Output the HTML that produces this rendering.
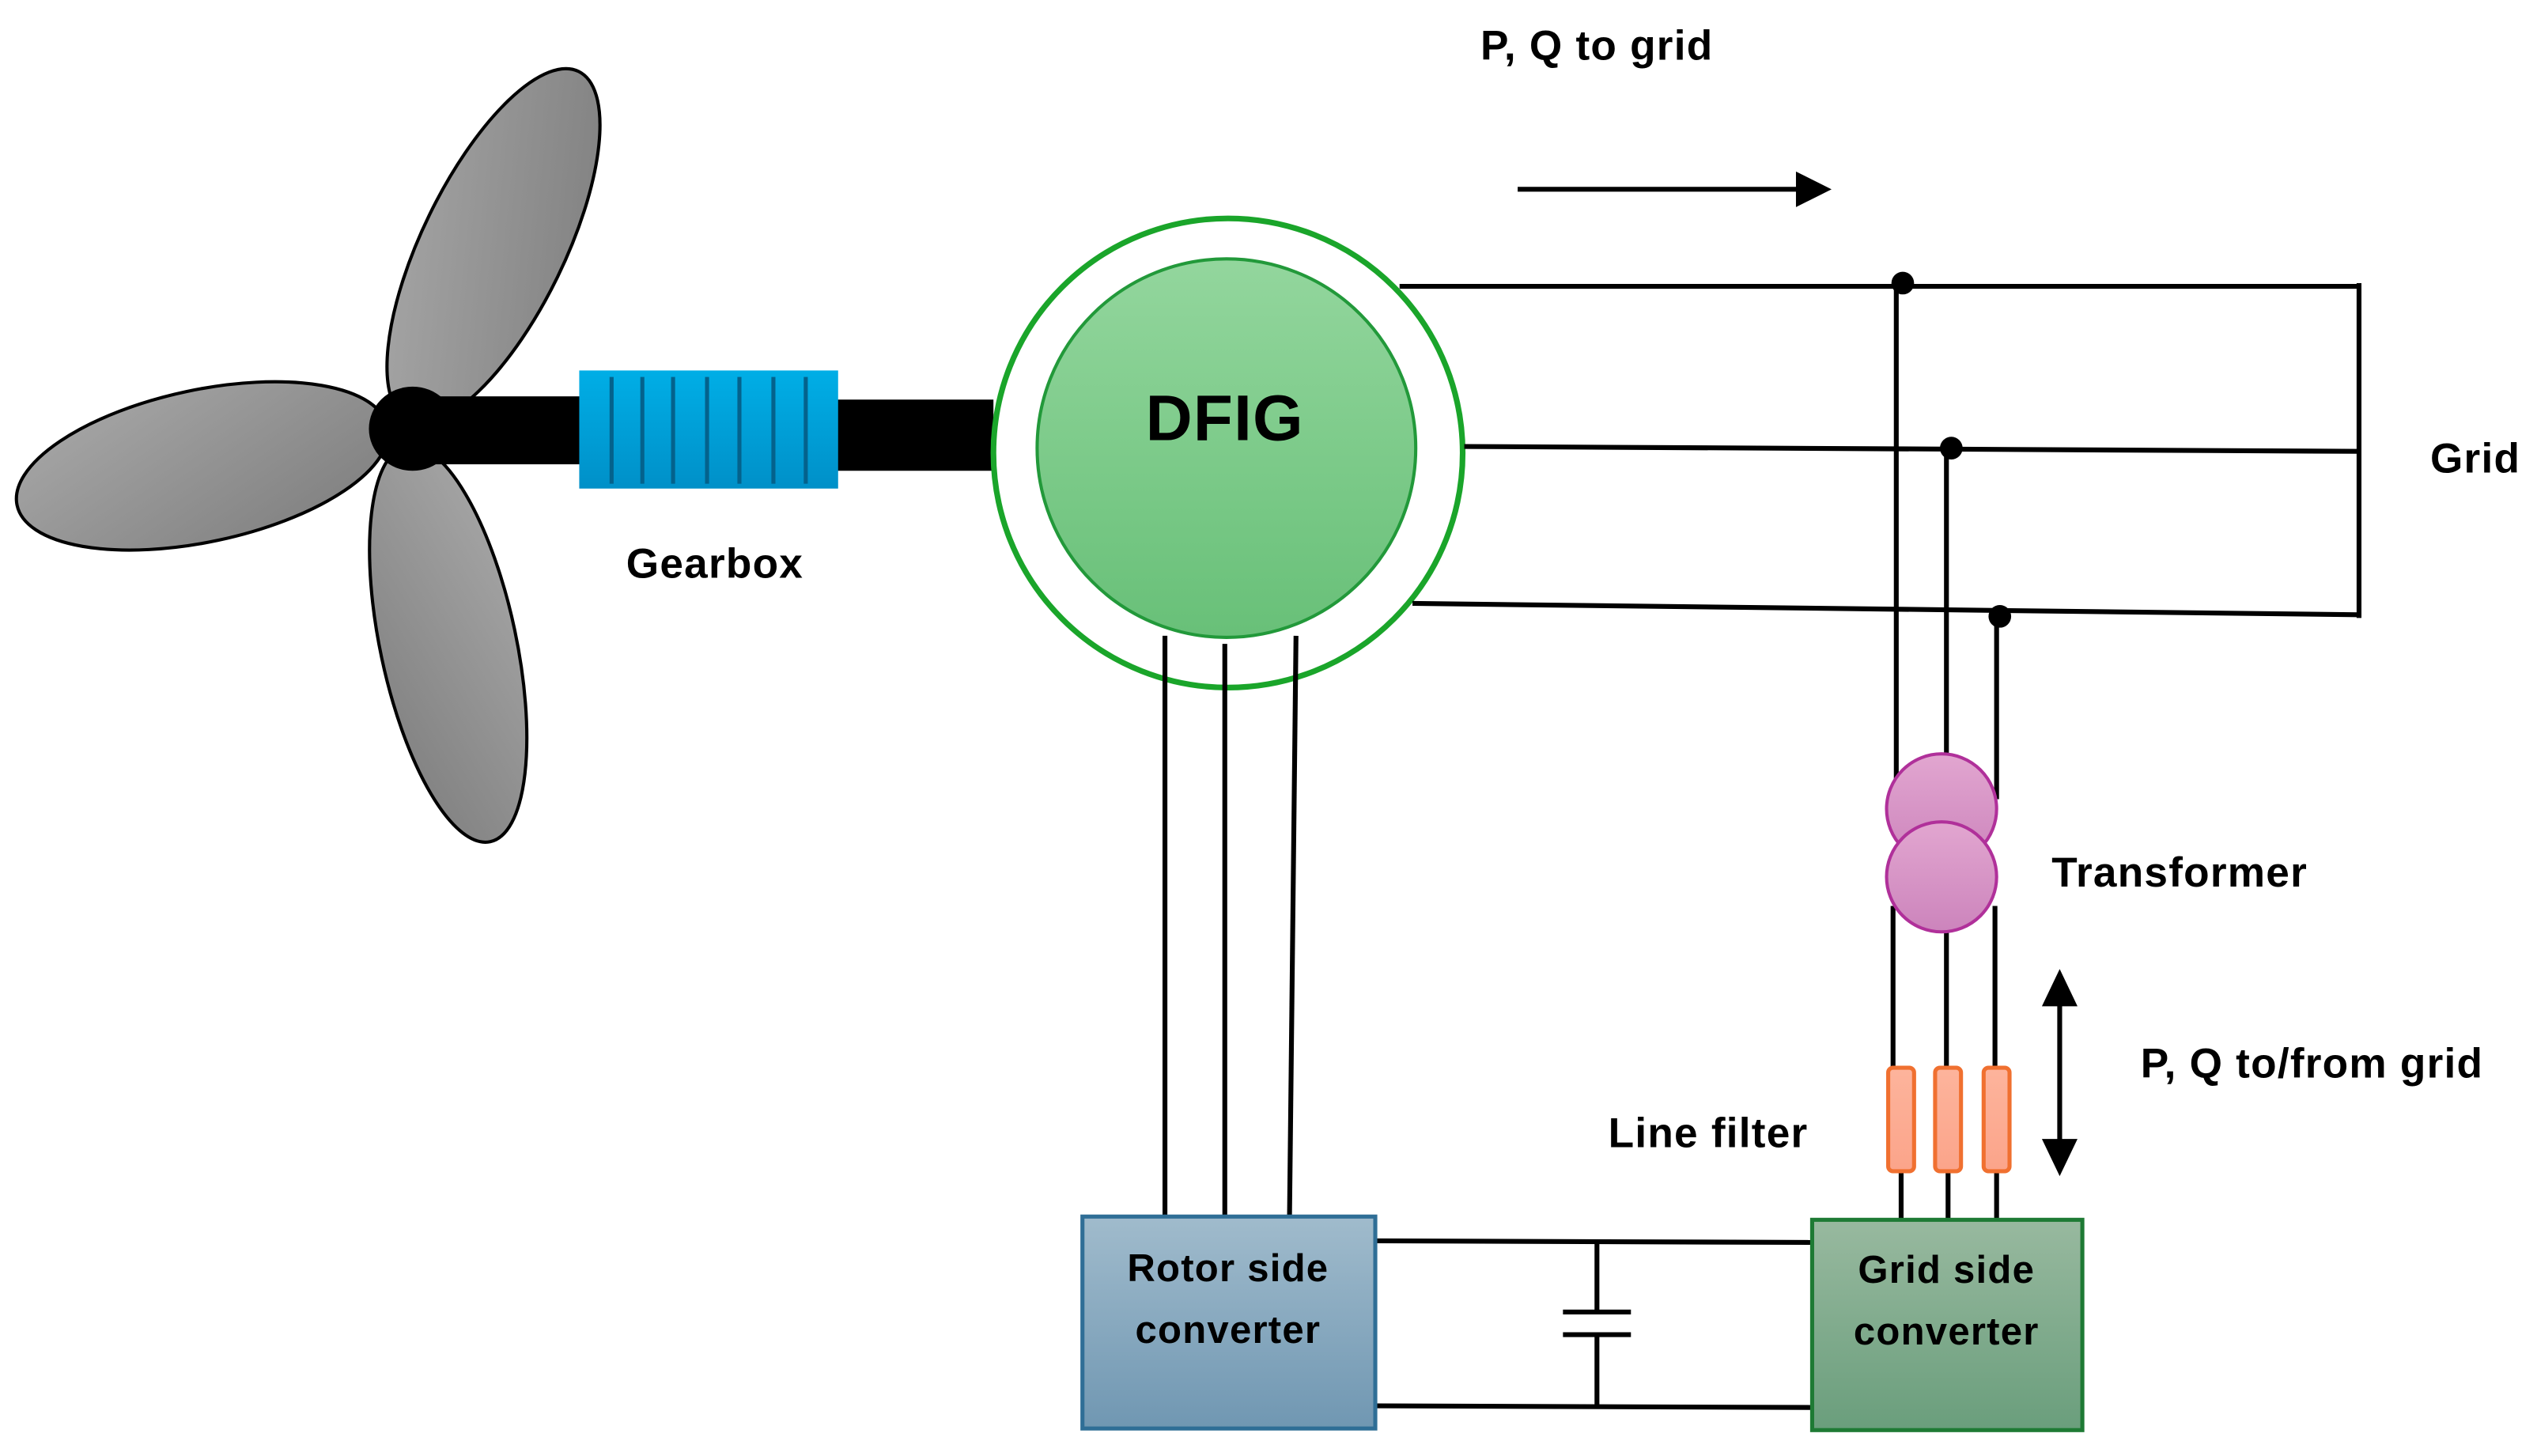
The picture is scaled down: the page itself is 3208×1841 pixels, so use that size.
<!DOCTYPE html>
<html><head><meta charset="utf-8"><style>
html,body{margin:0;padding:0;background:#fff;}
svg{display:block;}
text{font-family:"Liberation Sans",sans-serif;font-weight:bold;fill:#000;letter-spacing:0.6px;}
</style></head><body>
<svg width="3208" height="1841" viewBox="0 0 1568 900" preserveAspectRatio="none" xmlns="http://www.w3.org/2000/svg">
<defs>
<linearGradient id="gb" x1="0" y1="0" x2="1" y2="1"><stop offset="0" stop-color="#a8a8a8"/><stop offset="1" stop-color="#7e7e7e"/></linearGradient>
<linearGradient id="gbox" x1="0" y1="0" x2="0" y2="1"><stop offset="0" stop-color="#00aee6"/><stop offset="1" stop-color="#0090c8"/></linearGradient>
<linearGradient id="dfig" x1="0" y1="0" x2="0" y2="1"><stop offset="0" stop-color="#93d69d"/><stop offset="1" stop-color="#68c078"/></linearGradient>
<linearGradient id="tr" x1="0" y1="0" x2="0" y2="1"><stop offset="0" stop-color="#e2a6d0"/><stop offset="1" stop-color="#cc84bc"/></linearGradient>
<linearGradient id="lf" x1="0" y1="0" x2="0" y2="1"><stop offset="0" stop-color="#fdb49c"/><stop offset="1" stop-color="#fba48a"/></linearGradient>
<linearGradient id="rsc" x1="0" y1="0" x2="0" y2="1"><stop offset="0" stop-color="#a0bbcc"/><stop offset="1" stop-color="#7097b2"/></linearGradient>
<linearGradient id="gsc" x1="0" y1="0" x2="0" y2="1"><stop offset="0" stop-color="#98b99f"/><stop offset="1" stop-color="#6a9e7c"/></linearGradient>
</defs>
<ellipse cx="305" cy="152" rx="120" ry="44" transform="rotate(-64 305 152)" fill="url(#gb)" stroke="#000" stroke-width="2"/>
<ellipse cx="125" cy="288" rx="117" ry="47" transform="rotate(-12 125 288)" fill="url(#gb)" stroke="#000" stroke-width="2"/>
<ellipse cx="277" cy="398" rx="125" ry="42" transform="rotate(78 277 398)" fill="url(#gb)" stroke="#000" stroke-width="2"/>
<rect x="255" y="245" width="105" height="42" fill="#000"/>
<ellipse cx="255" cy="265" rx="27" ry="26" fill="#000"/>
<rect x="516" y="247" width="98" height="44" fill="#000"/>
<rect x="358" y="229" width="160" height="73" fill="url(#gbox)"/>
<g stroke="#04628c" stroke-width="2.5">
<line x1="378" y1="233" x2="378" y2="299"/><line x1="397" y1="233" x2="397" y2="299"/><line x1="416" y1="233" x2="416" y2="299"/><line x1="437" y1="233" x2="437" y2="299"/><line x1="457" y1="233" x2="457" y2="299"/><line x1="478" y1="233" x2="478" y2="299"/><line x1="498" y1="233" x2="498" y2="299"/>
</g>
<circle cx="759" cy="280" r="145" fill="#fff" stroke="#1aa52a" stroke-width="3.5"/>
<circle cx="758" cy="277" r="117" fill="url(#dfig)" stroke="#22993a" stroke-width="2"/>
<text x="757" y="272" font-size="40" text-anchor="middle">DFIG</text>
<g stroke="#000" stroke-width="3" fill="none">
<line x1="865" y1="177" x2="1458" y2="177"/>
<line x1="905" y1="276" x2="1458" y2="279"/>
<line x1="873" y1="373" x2="1458" y2="380"/>
<line x1="1458" y1="175" x2="1458" y2="382"/>
<line x1="1172" y1="175" x2="1172" y2="490"/>
<line x1="1203" y1="277" x2="1203" y2="470"/>
<line x1="1234" y1="381" x2="1234" y2="494"/>
<line x1="1170" y1="560" x2="1170" y2="662"/>
<line x1="1203" y1="570" x2="1203" y2="662"/>
<line x1="1233" y1="560" x2="1233" y2="662"/>
<line x1="1175" y1="722" x2="1175" y2="753"/>
<line x1="1204" y1="722" x2="1204" y2="753"/>
<line x1="1234" y1="722" x2="1234" y2="753"/>
<line x1="720" y1="393" x2="720" y2="751"/>
<line x1="757" y1="398" x2="757" y2="751"/>
<line x1="801" y1="393" x2="797" y2="751"/>
<line x1="850" y1="767" x2="1119" y2="768"/>
<line x1="850" y1="869" x2="1119" y2="870"/>
<line x1="987" y1="767" x2="987" y2="811"/>
<line x1="987" y1="825" x2="987" y2="869"/>
<line x1="966" y1="811" x2="1008" y2="811"/>
<line x1="966" y1="825" x2="1008" y2="825"/>
<line x1="938" y1="117" x2="1114" y2="117"/>
<line x1="1273" y1="618" x2="1273" y2="708"/>
</g>
<polygon points="1110,106 1132,117 1110,128" fill="#000"/>
<polygon points="1262,622 1273,599 1284,622" fill="#000"/>
<polygon points="1262,704 1273,727 1284,704" fill="#000"/>
<circle cx="1176" cy="175" r="7" fill="#000"/>
<circle cx="1206" cy="277" r="7" fill="#000"/>
<circle cx="1236" cy="381" r="7" fill="#000"/>
<circle cx="1200" cy="500" r="34" fill="url(#tr)" stroke="#b0309a" stroke-width="2"/>
<circle cx="1200" cy="542" r="34" fill="url(#tr)" stroke="#b0309a" stroke-width="2"/>
<g fill="url(#lf)" stroke="#f07030" stroke-width="2.5">
<rect x="1167" y="660" width="16" height="64" rx="3"/>
<rect x="1196" y="660" width="16" height="64" rx="3"/>
<rect x="1226" y="660" width="16" height="64" rx="3"/>
</g>
<rect x="669" y="752" width="181" height="131" fill="url(#rsc)" stroke="#2f6e96" stroke-width="2.5"/>
<rect x="1120" y="754" width="167" height="130" fill="url(#gsc)" stroke="#1e7a34" stroke-width="2.5"/>
<text x="759" y="792" font-size="24" text-anchor="middle">Rotor side</text>
<text x="759" y="830" font-size="24" text-anchor="middle">converter</text>
<text x="1203" y="793" font-size="24" text-anchor="middle">Grid side</text>
<text x="1203" y="831" font-size="24" text-anchor="middle">converter</text>
<text x="915" y="37" font-size="26">P, Q to grid</text>
<text x="1502" y="292" font-size="26">Grid</text>
<text x="387" y="357" font-size="26">Gearbox</text>
<text x="1268" y="548" font-size="26">Transformer</text>
<text x="1323" y="666" font-size="26">P, Q to/from grid</text>
<text x="994" y="709" font-size="26">Line filter</text>
</svg>
</body></html>
